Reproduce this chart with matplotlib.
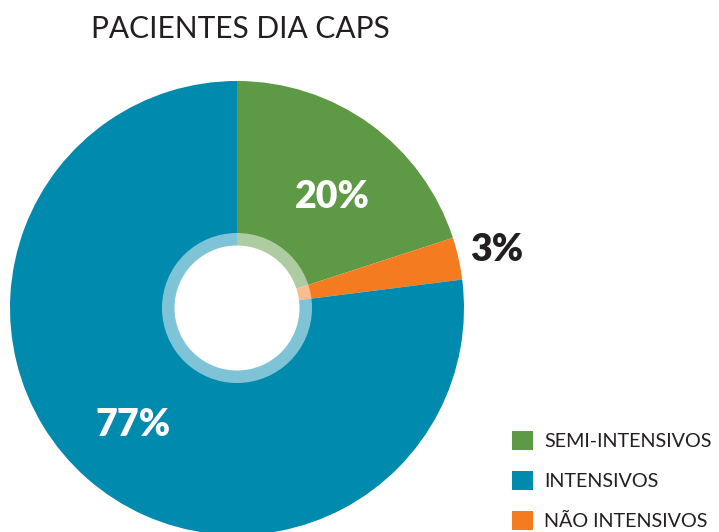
import matplotlib.pyplot as plt
from matplotlib.patches import Circle

# dados
categorias = ['SEMI-INTENSIVOS', 'NÃO INTENSIVOS', 'INTENSIVOS']
percentuais = [20, 3, 77]
cores = ['#5e9945', '#f47b20', '#008aae']
legenda = ['SEMI-INTENSIVOS', 'INTENSIVOS', 'NÃO INTENSIVOS']

plt.rcParams['font.family'] = ['Lato', 'DejaVu Sans']

W, H = 719, 532
fig = plt.figure(figsize=(W / 100, H / 100), dpi=100)
ax = fig.add_axes([0, 0, 1, 1])

cx, cy, R = 237, H - 308, 227
pd_ = 0.69
wedges, _, autotexts = ax.pie(percentuais, colors=cores, startangle=90,
                              counterclock=False, center=(cx, cy), radius=R,
                              autopct='%d%%', pctdistance=pd_,
                              textprops=dict(color='white', fontsize=27, fontweight='heavy'),
                              wedgeprops=dict(linewidth=0))
# ajuste fino do 20%
x, y = autotexts[0].get_position()
autotexts[0].set_position((x + 3, y - 16))
# rótulo 3% fora da fatia
t = autotexts[1]
t.set_color('#231f20')
x, y = t.get_position()
t.set_position((cx + (x - cx) / pd_ * 1.18 - 2, cy + (y - cy) / pd_ * 1.18))

# anel translúcido e furo central
ax.add_patch(Circle((cx, cy), 75, facecolor='white', alpha=0.5, linewidth=0))
ax.add_patch(Circle((cx, cy), 62.5, facecolor='white', linewidth=0))

ax.set_xlim(0, W)
ax.set_ylim(0, H)
ax.set_aspect('equal')
ax.axis('off')

fig.text(240 / W, 1 - 29 / H, 'PACIENTES DIA CAPS', ha='center', va='center',
         fontsize=21.5, color='#231f20')

handles = [wedges[categorias.index(k)] for k in legenda]
leg = fig.legend(handles, legenda, loc='lower left', bbox_to_anchor=(494 / W, -16 / H),
                 frameon=False, fontsize=14.2, handlelength=1.1, handleheight=1.1,
                 handletextpad=0.55, labelspacing=1.05)
for txt in leg.get_texts():
    txt.set_color('#231f20')

fig.savefig('out.png', dpi=100)
